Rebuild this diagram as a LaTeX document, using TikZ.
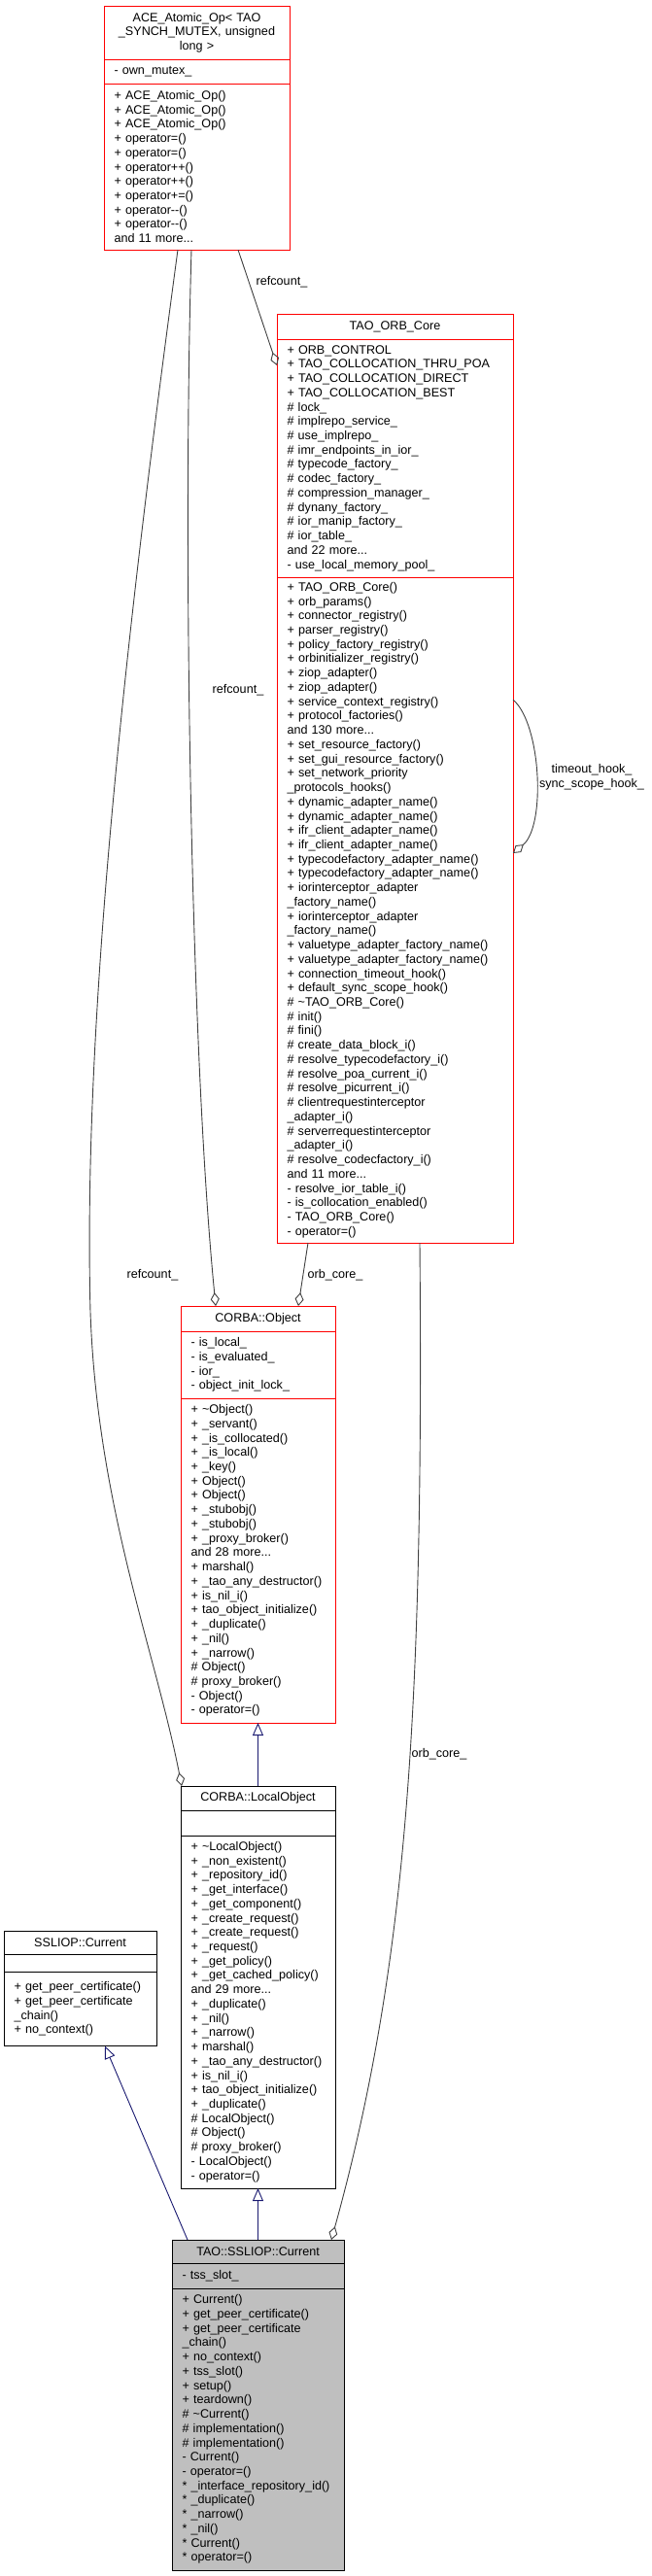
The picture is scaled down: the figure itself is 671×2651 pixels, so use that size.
\documentclass[tikz,border=0pt]{standalone}
\usepackage{fontspec}
\setmainfont{Liberation Sans}
\usetikzlibrary{positioning,arrows.meta}
\definecolor{linkgray}{HTML}{404040}
\definecolor{inhblue}{HTML}{191970}
\definecolor{curfill}{HTML}{BFBFBF}

\begin{document}
\begin{tikzpicture}[x=1pt, y=-1pt, node distance=0pt,
  umlpart/.style={draw, line width=1pt, outer sep=0pt, inner xsep=10.5pt, inner ysep=0pt, font=\fontsize{12.6}{14.73}\selectfont},
  classname/.style={umlpart, align=center},
  memberlist/.style={umlpart, align=left},
  usage/.style={draw=linkgray, line width=0.9pt, -{Diamond[open, length=14pt, width=9pt]}},
  inherit/.style={draw=inhblue, line width=0.9pt, -{Triangle[open, length=13pt, width=11pt, fill=white]}},
  edgetag/.style={font=\fontsize{12.6}{14.73}\selectfont, align=center, inner sep=0pt}]

\useasboundingbox (0,0) rectangle (671,2651);

%ACE_Atomic_Op
\begin{scope}[every node/.append style={text width=170pt, draw=red}]
  \node (acet) [classname, anchor=north west, minimum height=55pt] at (107,6) {ACE\_Atomic\_Op< TAO\\\_SYNCH\_MUTEX, unsigned\\long >};
  \node (acea) [memberlist, below=of acet, minimum height=25pt] {- own\_mutex\_};
  \node (acem) [memberlist, below=of acea, minimum height=171pt] {+ ACE\_Atomic\_Op()\\+ ACE\_Atomic\_Op()\\+ ACE\_Atomic\_Op()\\+ operator=()\\+ operator=()\\+ operator++()\\+ operator++()\\+ operator+=()\\+ operator-{}-()\\+ operator-{}-()\\and 11 more...};
\end{scope}

%TAO_ORB_Core
\begin{scope}[every node/.append style={text width=222pt, draw=red}]
  \node (orbt) [classname, anchor=north west, minimum height=26pt] at (285,323) {TAO\_ORB\_Core};
  \node (orba) [memberlist, below=of orbt, minimum height=245pt] {+ ORB\_CONTROL\\+ TAO\_COLLOCATION\_THRU\_POA\\+ TAO\_COLLOCATION\_DIRECT\\+ TAO\_COLLOCATION\_BEST\\\# lock\_\\\# implrepo\_service\_\\\# use\_implrepo\_\\\# imr\_endpoints\_in\_ior\_\\\# typecode\_factory\_\\\# codec\_factory\_\\\# compression\_manager\_\\\# dynany\_factory\_\\\# ior\_manip\_factory\_\\\# ior\_table\_\\and 22 more...\\- use\_local\_memory\_pool\_};
  \node (orbm) [memberlist, below=of orba, minimum height=685pt] {+ TAO\_ORB\_Core()\\+ orb\_params()\\+ connector\_registry()\\+ parser\_registry()\\+ policy\_factory\_registry()\\+ orbinitializer\_registry()\\+ ziop\_adapter()\\+ ziop\_adapter()\\+ service\_context\_registry()\\+ protocol\_factories()\\and 130 more...\\+ set\_resource\_factory()\\+ set\_gui\_resource\_factory()\\+ set\_network\_priority\\\_protocols\_hooks()\\+ dynamic\_adapter\_name()\\+ dynamic\_adapter\_name()\\+ ifr\_client\_adapter\_name()\\+ ifr\_client\_adapter\_name()\\+ typecodefactory\_adapter\_name()\\+ typecodefactory\_adapter\_name()\\+ iorinterceptor\_adapter\\\_factory\_name()\\+ iorinterceptor\_adapter\\\_factory\_name()\\+ valuetype\_adapter\_factory\_name()\\+ valuetype\_adapter\_factory\_name()\\+ connection\_timeout\_hook()\\+ default\_sync\_scope\_hook()\\\# \textasciitilde TAO\_ORB\_Core()\\\# init()\\\# fini()\\\# create\_data\_block\_i()\\\# resolve\_typecodefactory\_i()\\\# resolve\_poa\_current\_i()\\\# resolve\_picurrent\_i()\\\# clientrequestinterceptor\\\_adapter\_i()\\\# serverrequestinterceptor\\\_adapter\_i()\\\# resolve\_codecfactory\_i()\\and 11 more...\\- resolve\_ior\_table\_i()\\- is\_collocation\_enabled()\\- TAO\_ORB\_Core()\\- operator=()};
\end{scope}

%CORBA::Object
\begin{scope}[every node/.append style={text width=138pt, draw=red}]
  \node (objt) [classname, anchor=north west, minimum height=26pt] at (186,1344) {CORBA::Object};
  \node (obja) [memberlist, below=of objt, minimum height=69pt] {- is\_local\_\\- is\_evaluated\_\\- ior\_\\- object\_init\_lock\_};
  \node (objm) [memberlist, below=of obja, minimum height=334pt] {+ \textasciitilde Object()\\+ \_servant()\\+ \_is\_collocated()\\+ \_is\_local()\\+ \_key()\\+ Object()\\+ Object()\\+ \_stubobj()\\+ \_stubobj()\\+ \_proxy\_broker()\\and 28 more...\\+ marshal()\\+ \_tao\_any\_destructor()\\+ is\_nil\_i()\\+ tao\_object\_initialize()\\+ \_duplicate()\\+ \_nil()\\+ \_narrow()\\\# Object()\\\# proxy\_broker()\\- Object()\\- operator=()};
\end{scope}

%CORBA::LocalObject
\begin{scope}[every node/.append style={text width=138pt, draw=black}]
  \node (loct) [classname, anchor=north west, minimum height=25pt] at (186,1838) {CORBA::LocalObject};
  \node (loca) [memberlist, below=of loct, minimum height=26pt] {};
  \node (locm) [memberlist, below=of loca, minimum height=363pt] {+ \textasciitilde LocalObject()\\+ \_non\_existent()\\+ \_repository\_id()\\+ \_get\_interface()\\+ \_get\_component()\\+ \_create\_request()\\+ \_create\_request()\\+ \_request()\\+ \_get\_policy()\\+ \_get\_cached\_policy()\\and 29 more...\\+ \_duplicate()\\+ \_nil()\\+ \_narrow()\\+ marshal()\\+ \_tao\_any\_destructor()\\+ is\_nil\_i()\\+ tao\_object\_initialize()\\+ \_duplicate()\\\# LocalObject()\\\# Object()\\\# proxy\_broker()\\- LocalObject()\\- operator=()};
\end{scope}

%SSLIOP::Current
\begin{scope}[every node/.append style={text width=136pt, draw=black}]
  \node (sslt) [classname, anchor=north west, minimum height=24pt] at (4,1987) {SSLIOP::Current};
  \node (ssla) [memberlist, below=of sslt, minimum height=18.6pt] {};
  \node (sslm) [memberlist, below=of ssla, minimum height=76pt] {+ get\_peer\_certificate()\\+ get\_peer\_certificate\\\_chain()\\+ no\_context()};
\end{scope}

%TAO::SSLIOP::Current
\begin{scope}[every node/.append style={text width=156pt, draw=black, fill=curfill}]
  \node (curt) [classname, anchor=north west, minimum height=24pt] at (177,2305) {TAO::SSLIOP::Current};
  \node (cura) [memberlist, below=of curt, minimum height=26pt] {- tss\_slot\_};
  \node (curm) [memberlist, below=of cura, minimum height=290pt] {+ Current()\\+ get\_peer\_certificate()\\+ get\_peer\_certificate\\\_chain()\\+ no\_context()\\+ tss\_slot()\\+ setup()\\+ teardown()\\\# \textasciitilde Current()\\\# implementation()\\\# implementation()\\- Current()\\- operator=()\\{*} \_interface\_repository\_id()\\{*} \_duplicate()\\{*} \_narrow()\\{*} \_nil()\\{*} Current()\\{*} operator=()};
\end{scope}

%refcount_ veze
\draw[usage] ([xshift=138pt]acem.south west) -- ([yshift=-27pt]orba.north west);
\draw[usage] ([xshift=90pt]acem.south west) .. controls (188,560) and (196,1080) .. ([xshift=36pt]objt.north west);
\draw[usage] ([xshift=76pt]acem.south west) .. controls (130,650) and (85,1050) .. (93,1350) .. controls (100,1550) and (160,1700) .. ([xshift=1pt]loct.north west);

%orb_core_ veze
\draw[usage] ([xshift=32pt]orbm.south west) -- ([xshift=121pt]objt.north west);
\draw[usage] ([xshift=147pt]orbm.south west) .. controls (436,1750) and (420,2020) .. ([xshift=164pt]curt.north west);

%hookovi
\draw[usage] ([yshift=-126pt]orbm.north east) .. controls (557,745) and (562,850) .. ([yshift=-284pt]orbm.north east);

%nasljedivanje
\draw[inherit] (loct.north) -- (objm.south);
\draw[inherit] (curt.north) -- (locm.south);
\draw[inherit] ([xshift=16pt]curt.north west) -- ([xshift=104pt]sslm.south west);

%oznake
\node[edgetag] (refa) at (290,290) {refcount\_};
\node[edgetag] (refb) at (245,710) {refcount\_};
\node[edgetag] (refc) at (157,1312) {refcount\_};
\node[edgetag] (orba lbl) at (345,1312) {orb\_core\_};
\node[edgetag] (orbb lbl) at (452,1805) {orb\_core\_};
\node[edgetag] (hooks) at (609,800) {timeout\_hook\_\\sync\_scope\_hook\_};

\end{tikzpicture}
\end{document}
